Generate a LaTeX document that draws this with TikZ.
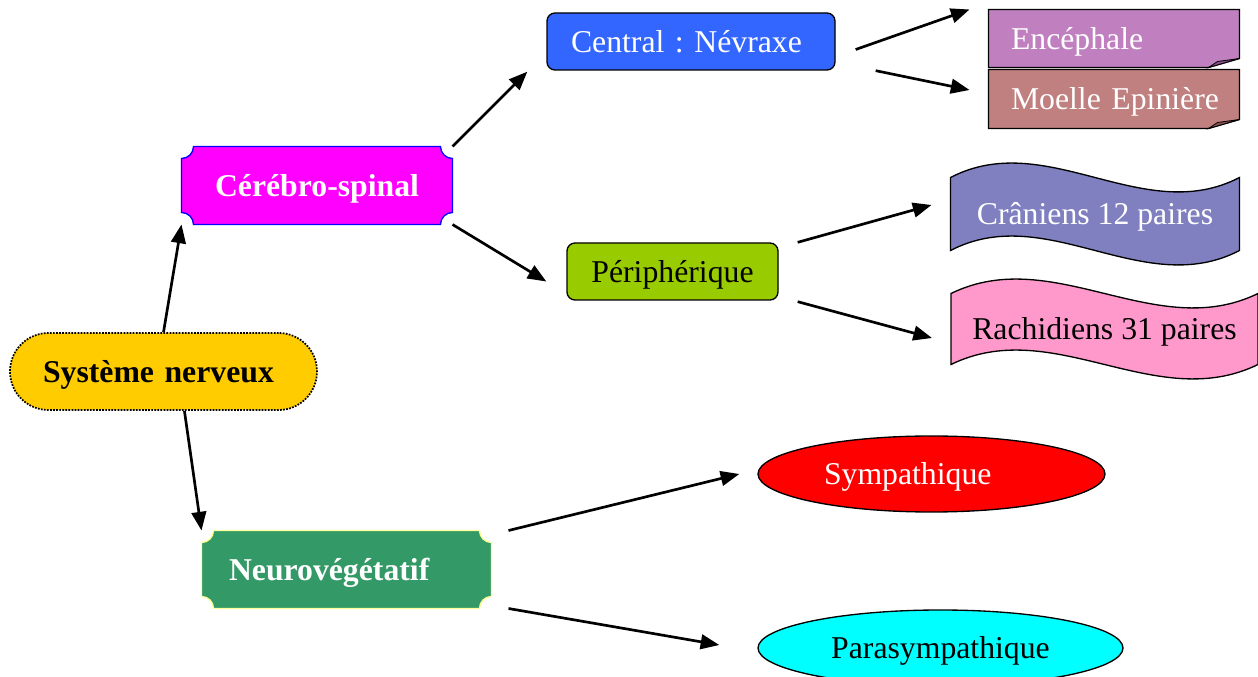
\documentclass[tikz,border=0pt]{standalone}
\usepackage{fontspec}
\setmainfont{Liberation Serif}
\usetikzlibrary{arrows.meta,calc,shapes.geometric,backgrounds}

\definecolor{sysyellow}{HTML}{FFCC00}
\definecolor{cermagenta}{HTML}{FF00FF}
\definecolor{cerborder}{HTML}{0000FF}
\definecolor{neugreen}{HTML}{339966}
\definecolor{neuborder}{HTML}{FFFF99}
\definecolor{cenblue}{HTML}{3366FF}
\definecolor{perlime}{HTML}{99CC00}
\definecolor{encplum}{HTML}{C080C0}
\definecolor{encfold}{HTML}{8A4C8A}
\definecolor{moebrown}{HTML}{C08080}
\definecolor{moefold}{HTML}{8A5050}
\definecolor{craviolet}{HTML}{8080C0}
\definecolor{racpink}{HTML}{FF99CC}
\definecolor{symred}{HTML}{FF0000}
\definecolor{parcyan}{HTML}{00FFFF}

\newcommand{\lblstrut}{\rule[-5.1pt]{0pt}{26.3pt}}

\tikzset{every picture/.style={line width=0.75pt}}
\tikzset{
  txt/.style={font=\fontsize{23.8}{28}\selectfont, inner sep=0pt, text height=21.2pt, text depth=5.1pt,
    execute at begin node=\lblstrut},
  flag/.style={txt, text=white, font=\fontsize{23.8}{28}\selectfont\bfseries, minimum height=57.75pt},
  tagbox/.style={txt, text=white, align=left, text width=154.5pt, inner xsep=16.5pt},
  oval/.style={txt, ellipse, draw, line width=1pt, minimum height=57pt},
  wave/.style={txt, minimum height=54pt},
  arr/.style={line width=2pt, -{Triangle[length=14pt,width=11pt]}},
}

% plaque outline with hollow corners, radius 12
\newcommand{\plaque}[2]{%
  \draw[#2] ($(#1.north west)+(12,0)$) -- ($(#1.north east)+(-12,0)$)
    arc[start angle=180,end angle=90,radius=12] -- ($(#1.south east)+(0,-12)$)
    arc[start angle=270,end angle=180,radius=12] -- ($(#1.south west)+(12,0)$)
    arc[start angle=0,end angle=-90,radius=12] -- ($(#1.north west)+(0,12)$)
    arc[start angle=90,end angle=0,radius=12] -- cycle;}
% note with a turned-up corner
\newcommand{\foldnote}[3]{%
  \draw[fill=#2, line width=1pt] (#1.north west) -- (#1.north east) -- ($(#1.south east)+(0,-9)$)
    -- ($(#1.south east)+(-31,0)$) -- (#1.south west) -- cycle;
  \draw[fill=#3, line width=0.6pt] ($(#1.south east)+(-31,0)$) -- ($(#1.south east)+(-22,-6)$)
    -- ($(#1.south east)+(0,-9)$) -- cycle;}
% banner with wavy top and bottom
\newcommand{\banner}[2]{%
  \draw[fill=#2, line width=1pt] (#1.north west)
    .. controls ($(#1.north west)!1/3!(#1.north east)+(0,-50)$) and ($(#1.north west)!2/3!(#1.north east)+(0,50)$) .. (#1.north east)
    -- (#1.south east)
    .. controls ($(#1.south west)!2/3!(#1.south east)+(0,50)$) and ($(#1.south west)!1/3!(#1.south east)+(0,-50)$) .. (#1.south west)
    -- cycle;}

\begin{document}
\begin{tikzpicture}[x=0.75pt,y=0.75pt,yscale=-1,xscale=1]
	\useasboundingbox (0,0) rectangle (1258,677);

	% Text Node
	\node[txt, draw, fill=sysyellow, densely dotted, line width=1.3pt, rounded corners=28.8pt,
	  align=left, text width=180.75pt, inner xsep=24.75pt, minimum height=57.75pt, font=\fontsize{23.8}{28}\selectfont\bfseries]
	  (sys) at (163.5,371.5) {Système~nerveux};
	% Text Node
	\node[flag, minimum width=202.5pt] (cer) at (317,185.5) {Cérébro-spinal};
	% Text Node
	\node[flag, align=left, text width=176.25pt, inner xsep=20.25pt] (neu) at (346.5,569.5) {Neurovégétatif};
	% Text Node
	\node[txt, draw, fill=cenblue, text=white, line width=1pt, rounded corners=6pt, align=left,
	  text width=180pt, inner xsep=18pt, minimum height=42.75pt] (cen) at (691,41.5) {Central~:~Névraxe};
	% Text Node
	\node[txt, draw, fill=perlime, line width=1pt, rounded corners=6pt, minimum width=158.25pt,
	  minimum height=42.75pt] (per) at (672.5,271.5) {Périphérique};
	% Text Node
	\node[tagbox, minimum height=42.75pt] (enc) at (1114,38.5) {Encéphale};
	% Text Node
	\node[tagbox, minimum height=43.5pt] (moe) at (1114,99) {Moelle~Epinière};
	% Text Node
	\node[wave, text=white, minimum width=216pt] (cra) at (1095,214) {Crâniens 12 paires};
	% Text Node
	\node[wave, minimum width=229.5pt, minimum height=52.5pt] (rac) at (1104.5,329) {Rachidiens 31 paires};
	% Text Node
	\node[oval, fill=symred, text=white, align=left, text width=161.25pt, minimum width=260.25pt] (sym) at (931.5,474) {Sympathique};
	% Text Node
	\node[oval, fill=parcyan, minimum width=273.75pt] (par) at (940.5,648) {Parasympathique};

	%Shapes behind the labels
	\begin{scope}[on background layer]
	\plaque{cer}{fill=cermagenta, draw=cerborder, line width=1pt}
	\plaque{neu}{fill=neugreen, draw=neuborder, line width=1pt}
	\foldnote{enc}{encplum}{encfold}
	\foldnote{moe}{moebrown}{moefold}
	\banner{cra}{craviolet}
	\banner{rac}{racpink}
	\end{scope}

	%Straight Lines
	\draw[arr] (sys.north) -- (cer.south west);
	\draw[arr] (sys.-62) -- (neu.north west);
	\draw[arr] (cer.north east) -- ($(cen.south west)+(-19,1)$);
	\draw[arr] (cer.south east) -- ($(per.west)+(-20,10)$);
	\draw[arr] ($(cen.east)+(20,8)$) -- ($(enc.north west)+(-19,0)$);
	\draw[arr] ($(cen.south east)+(40,0)$) -- ($(moe.west)+(-19,-9)$);
	\draw[arr] ($(per.north east)+(19,0)$) -- ($(cra.west)+(-19,-9)$);
	\draw[arr] ($(per.south east)+(19,1)$) -- ($(rac.west)+(-19,9)$);
	\draw[arr] ($(neu.north east)+(17,0)$) -- ($(sym.west)+(-18,0)$);
	\draw[arr] ($(neu.south east)+(17,0)$) -- ($(par.west)+(-38,-3)$);

\end{tikzpicture}
\end{document}
